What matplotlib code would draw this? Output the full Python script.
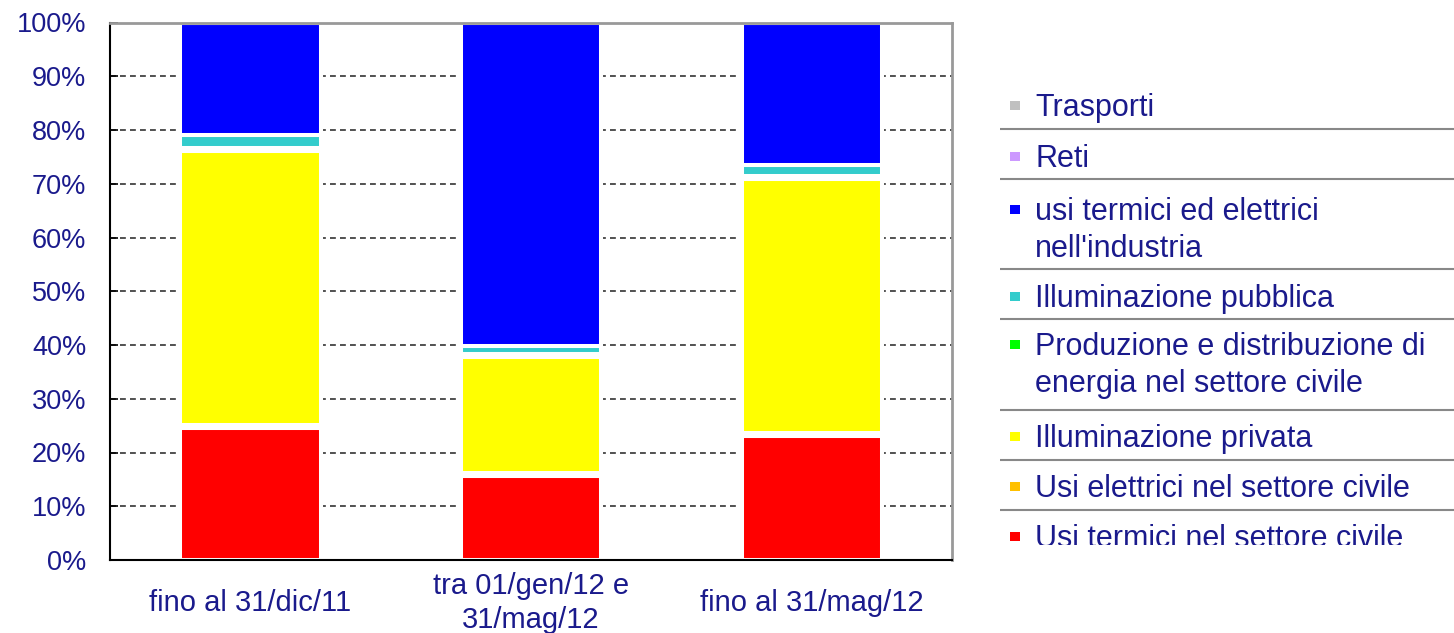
import matplotlib
matplotlib.use("Agg")
import matplotlib.pyplot as plt
import numpy as np

categories = ["fino al 31/dic/11", "tra 01/gen/12 e\n31/mag/12", "fino al 31/mag/12"]

# series values (% of total), bottom to top
usi_termici_civile = [24.6, 15.6, 23.1]
usi_elettrici_civile = [0.5, 0.5, 0.5]
illuminazione_privata = [51.0, 21.7, 47.3]
produzione_distribuzione = [0.5, 0.5, 0.5]
illuminazione_pubblica = [2.5, 1.5, 2.1]
usi_industria = [20.9, 60.2, 26.5]
reti = [0.0, 0.0, 0.0]
trasporti = [0.0, 0.0, 0.0]

series_names = [
    "Usi termici nel settore civile",
    "Usi elettrici nel settore civile",
    "Illuminazione privata",
    "Produzione e distribuzione di\nenergia nel settore civile",
    "Illuminazione pubblica",
    "usi termici ed elettrici\nnell'industria",
    "Reti",
    "Trasporti",
]
series_values = [usi_termici_civile, usi_elettrici_civile, illuminazione_privata,
                 produzione_distribuzione, illuminazione_pubblica, usi_industria,
                 reti, trasporti]
series_colors = ["#FF0000", "#FFC000", "#FFFF00", "#00FF00", "#33CCCC",
                 "#0000FF", "#CC99FF", "#C0C0C0"]

yticks = [0, 10, 20, 30, 40, 50, 60, 70, 80, 90, 100]
ytick_labels = ["0%", "10%", "20%", "30%", "40%", "50%", "60%", "70%", "80%", "90%", "100%"]

TXT = "#1a1a8c"
FONT = "Liberation Sans"
FS_Y = 19.5
FS_X = 21
FS_L = 22

W, H = 1454, 633
fig = plt.figure(figsize=(W / 100, H / 100), dpi=100)
ax = fig.add_axes([110 / W, 1 - 560 / H, (952 - 110) / W, (560 - 22.5) / H])

x = np.arange(len(categories))
bottom = np.zeros(len(categories))
for vals, col in zip(series_values, series_colors):
    vals = np.array(vals, dtype=float)
    ax.bar(x, vals, width=0.5, bottom=bottom, color=col, edgecolor="white",
           linewidth=2.9, zorder=2)
    bottom += vals

ax.set_xlim(-0.5, len(categories) - 0.5)
ax.set_ylim(0, 100)
ax.set_yticks(yticks)
ax.set_yticklabels(ytick_labels, fontsize=FS_Y, color=TXT, family=FONT)
ax.set_xticks(x)
ax.set_xticklabels(categories, fontsize=FS_X, color=TXT, family=FONT, linespacing=1.3)
for lbl in ax.get_xticklabels():
    lbl.set_va("center")
ax.tick_params(axis="x", length=0, pad=31)
ax.tick_params(axis="y", direction="in", length=6, width=1.2, color="black", pad=17)

for yv in yticks[1:-1]:
    ax.axhline(yv, color="#333333", linestyle=(0, (3.5, 2.5)), linewidth=1.2, zorder=1)

for s in ax.spines.values():
    s.set_zorder(3)
ax.spines["left"].set_color("black")
ax.spines["bottom"].set_color("black")
ax.spines["left"].set_linewidth(1.5)
ax.spines["bottom"].set_linewidth(1.5)
ax.spines["top"].set_color("#999999")
ax.spines["right"].set_color("#999999")
ax.spines["top"].set_linewidth(2)
ax.spines["right"].set_linewidth(2)

# Legend panel (pixel coordinates inside a clipping axes)
lx0, lx1, ly0, ly1 = 1000, 1454, 82, 545
lax = fig.add_axes([lx0 / W, 1 - ly1 / H, (lx1 - lx0) / W, (ly1 - ly0) / H])
lax.set_xlim(lx0, lx1)
lax.set_ylim(ly1, ly0)
lax.axis("off")

legend_order = list(range(len(series_names)))[::-1]  # top to bottom
baselines = [116, 167, 220, 307, 355, 447, 497, 547]
separators = [129, 178.7, 269, 319, 410, 460, 510]
line_step = 37.5
for idx, yb in zip(legend_order, baselines):
    lax.add_patch(plt.Rectangle((1010, yb - 15), 9.5, 9.5, facecolor=series_colors[idx],
                                edgecolor="none", clip_on=True))
    for k, line in enumerate(series_names[idx].split("\n")):
        lax.text(1035, yb + k * line_step, line, fontsize=FS_L, color=TXT, family=FONT,
                 va="baseline", ha="left", clip_on=True)
for sy in separators:
    lax.plot([lx0, lx1], [sy, sy], color="#888888", linewidth=1.5, clip_on=True)

fig.savefig("out.png", dpi=100)
